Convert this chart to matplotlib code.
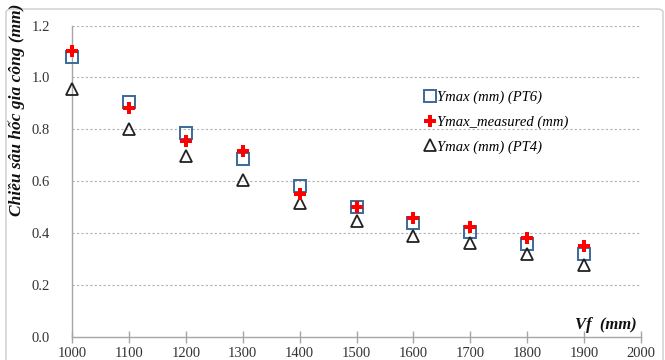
import matplotlib
matplotlib.use('Agg')
import matplotlib.pyplot as plt
from matplotlib.patches import FancyBboxPatch

# feed rate Vf and cavity depth Ymax
vf = [1000, 1100, 1200, 1300, 1400, 1500, 1600, 1700, 1800, 1900]
ymax_pt6 = [1.08, 0.905, 0.786, 0.686, 0.582, 0.50, 0.44, 0.405, 0.36, 0.318]
ymax_measured = [1.10, 0.883, 0.754, 0.716, 0.552, 0.50, 0.46, 0.425, 0.382, 0.35]
ymax_pt4 = [0.957, 0.80, 0.699, 0.606, 0.516, 0.445, 0.389, 0.363, 0.318, 0.279]

x_ticks = [1000, 1100, 1200, 1300, 1400, 1500, 1600, 1700, 1800, 1900, 2000]
y_ticks = [0.0, 0.2, 0.4, 0.6, 0.8, 1.0, 1.2]

plt.rcParams['font.family'] = ['Liberation Serif', 'DejaVu Serif']

fig = plt.figure(figsize=(6.65, 3.6), dpi=100)
ax = fig.add_axes([0.1083, 0.0639, 0.8557, 0.8652])

# light frame around the chart
frame = FancyBboxPatch((6 / 665, -0.05), 657 / 665, (360 - 9) / 360 + 0.05,
                       boxstyle='round,pad=0,rounding_size=0.01',
                       transform=fig.transFigure, fill=False,
                       edgecolor='#d4d4d4', linewidth=1.2, zorder=-1)
fig.patches.append(frame)

ax.plot(vf, ymax_pt6, linestyle='none', marker='s', markersize=8.5,
        markerfacecolor='none', markeredgecolor='#3a6a9a', markeredgewidth=1.4,
        label='Ymax (mm) (PT6)', clip_on=False, zorder=3)
ax.plot(vf, ymax_measured, linestyle='none', marker='P', markersize=8,
        color='#ff0000', markeredgewidth=0,
        label='Ymax_measured (mm)', clip_on=False, zorder=4)
ax.plot(vf, ymax_pt4, linestyle='none', marker='^', markersize=9,
        markerfacecolor='none', markeredgecolor='#222222', markeredgewidth=1.3,
        label='Ymax (mm) (PT4)', clip_on=False, zorder=3)

ax.set_xlim(1000, 2000)
ax.set_ylim(0, 1.2)
ax.set_xticks(x_ticks)
ax.set_yticks(y_ticks)
ax.set_yticklabels([f'{v:.1f}' for v in y_ticks])

for s in ['top', 'right']:
    ax.spines[s].set_visible(False)
for s in ['left', 'bottom']:
    ax.spines[s].set_color('#a6a6a6')
    ax.spines[s].set_linewidth(1.0)

ax.tick_params(axis='x', direction='inout', length=8, width=1.0,
               color='#a6a6a6', labelsize=10.5, pad=3, labelcolor='#333333')
ax.tick_params(axis='y', length=0, labelsize=10.5, pad=16, labelcolor='#333333')

ax.yaxis.grid(True, linestyle=(0, (2, 2)), color='#b0b0b0', linewidth=0.8)
ax.set_axisbelow(True)
for line in ax.yaxis.get_gridlines()[:1]:
    line.set_visible(False)

ax.set_ylabel('Chiều sâu hốc gia công (mm)', fontsize=12.5, fontweight='bold',
              fontstyle='italic', color='#111111')
ax.yaxis.set_label_coords(-0.083, 0.73)

ax.text(0.993, 0.04, 'Vf  (mm)', transform=ax.transAxes, ha='right', va='center',
        fontsize=12, fontweight='bold', fontstyle='italic', color='#111111')

ax.legend(loc='upper left', bbox_to_anchor=(0.611, 0.81), frameon=False,
          prop={'style': 'italic', 'size': 10.5}, handlelength=0.6,
          handletextpad=0.2, labelspacing=0.78, borderaxespad=0)

fig.savefig('out.png', dpi=100)
